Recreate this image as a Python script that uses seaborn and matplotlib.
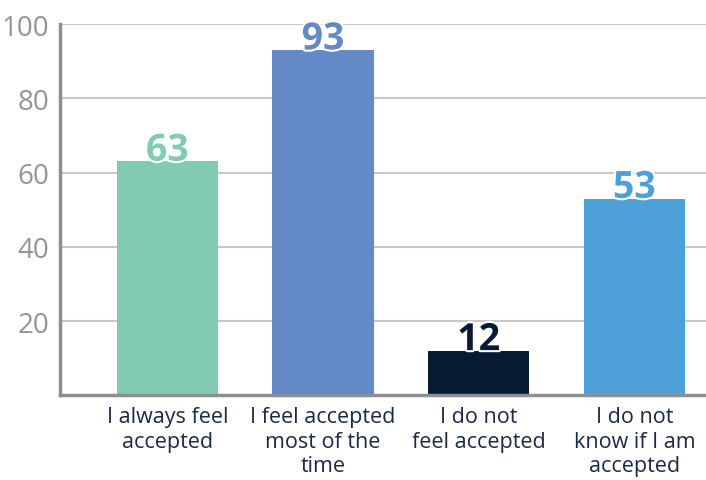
import matplotlib
matplotlib.use("Agg")
import matplotlib.pyplot as plt
import matplotlib.patheffects as pe
import seaborn as sns
import pandas as pd

categories = ["I always feel\naccepted", "I feel accepted\nmost of the\ntime",
              "I do not\nfeel accepted", "I do not\nknow if I am\naccepted"]
values = [63, 93, 12, 53]
colors = ["#80cbb1", "#6389c7", "#061a33", "#4ea1d8"]
y_ticks = [20, 40, 60, 80, 100]

sns.set_theme(style="white")
plt.rcParams["font.family"] = ["Open Sans", "DejaVu Sans"]

df = pd.DataFrame({"category": categories, "value": values})

fig = plt.figure(figsize=(7.06, 4.81), dpi=100)
ax = fig.add_axes([0.085, 0.176, 0.915, 0.772])

sns.barplot(data=df, x="category", y="value", hue="category", palette=colors,
            width=0.65, legend=False, ax=ax, saturation=1, linewidth=0)

ax.set_ylim(0, 100)
ax.set_xlim(-0.69, 3.46)
ax.set_yticks(y_ticks)
ax.yaxis.grid(True, color="#c8c8c8", linewidth=1.5)
ax.set_axisbelow(True)
ax.set_xlabel("")
ax.set_ylabel("")

for s in ["top", "right"]:
    ax.spines[s].set_visible(False)
for s in ["left", "bottom"]:
    ax.spines[s].set_color("#8e8e90")
    ax.spines[s].set_linewidth(2.5)

ax.tick_params(axis="y", labelsize=20, labelcolor="#959595", length=0, pad=8)
ax.tick_params(axis="x", labelsize=15.5, labelcolor="#1b2a45", length=0, pad=8)
for lbl in ax.get_xticklabels():
    lbl.set_linespacing(1.22)

for i, (v, c) in enumerate(zip(values, colors)):
    ax.annotate(str(v), (i, v), xytext=(0, -6), textcoords="offset points",
                ha="center", va="bottom", fontsize=27, fontweight="bold", color=c,
                path_effects=[pe.withStroke(linewidth=3, foreground="white")])

fig.savefig("out.png", dpi=100)
